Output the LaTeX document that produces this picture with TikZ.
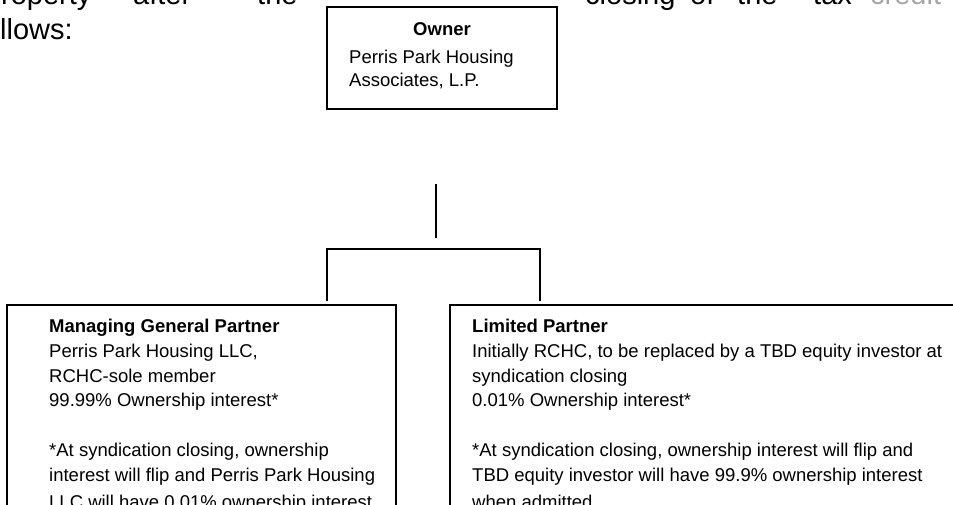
\documentclass[tikz,border=0pt]{standalone}
\usepackage{fontspec}
\setmainfont{Liberation Sans}
\begin{document}
\begin{tikzpicture}[x=1pt,y=-1pt,
  box/.style={draw, line width=1.3pt, inner sep=0pt, rectangle},
  conn/.style={line width=1.1pt},
  txt/.style={anchor=base west, inner sep=0pt, font=\fontsize{18.5}{22}\selectfont},
  otxt/.style={anchor=base west, inner sep=0pt, font=\fontsize{18.5}{22}\selectfont},
  big/.style={anchor=base west, inner sep=0pt, font=\fontsize{29}{34}\selectfont}]
\useasboundingbox (0,0) rectangle (953,504);
\clip (0,0) rectangle (953,504);
% running text of the page
\node[big] (w1) at (1,4) {roperty};
\node[big] (w2) at (133,4) {after};
\node[big] (w3) at (257,4) {the};
\node[big] (w4) at (585,4) {closing};
\node[big] (w5) at (690,4) {of};
\node[big] (w6) at (737,4) {the};
\node[big] (w7) at (813,4) {tax};
\node[big, text=gray!70] (w8) at (870,4) {credit};
\node[big] (w9) at (0,39) {llows:};
% owner box
\node[box, fill=white, minimum width=230pt, minimum height=102pt] (owner) at (442,58) {};
\node[otxt, anchor=base] (o1) at (442,35) {\bfseries Owner};
\node[otxt] (o2) at (349,63) {Perris Park Housing};
\node[otxt] (o3) at (349,86) {Associates, L.P.};
% connectors
\coordinate (t1) at (436,184);
\coordinate (t2) at (436,238);
\draw[conn] (t1) -- (t2);
\coordinate (bl) at (327,249);
\coordinate (br) at (540,249);
\coordinate (dl) at (327,301);
\coordinate (dr) at (540,301);
\draw[conn] (dl) -- (bl) -- (br) -- (dr);
% managing general partner box
\node[box, minimum width=389pt, minimum height=235pt] (mgp) at (201.5,422.5) {};
\node[txt] (m1) at (49,332) {\bfseries Managing General Partner};
\node[txt] (m2) at (49,357) {Perris Park Housing LLC,};
\node[txt] (m3) at (49,382) {RCHC-sole member};
\node[txt] (m4) at (49,406.5) {99.99\% Ownership interest*};
\node[txt] (m5) at (49,456.5) {*At syndication closing, ownership};
\node[txt] (m6) at (49,481) {interest will flip and Perris Park Housing};
\node[txt] (m7) at (49,508) {LLC will have 0.01\% ownership interest};
% limited partner box
\node[box, minimum width=520pt, minimum height=235pt] (lp) at (710,422.5) {};
\node[txt] (l1) at (472,332) {\bfseries Limited Partner};
\node[txt] (l2) at (472,357) {Initially RCHC, to be replaced by a TBD equity investor at};
\node[txt] (l3) at (472,382) {syndication closing};
\node[txt] (l4) at (472,406.5) {0.01\% Ownership interest*};
\node[txt] (l5) at (472,456.5) {*At syndication closing, ownership interest will flip and};
\node[txt] (l6) at (472,481) {TBD equity investor will have 99.9\% ownership interest};
\node[txt] (l7) at (472,508) {when admitted};
\end{tikzpicture}
\end{document}
